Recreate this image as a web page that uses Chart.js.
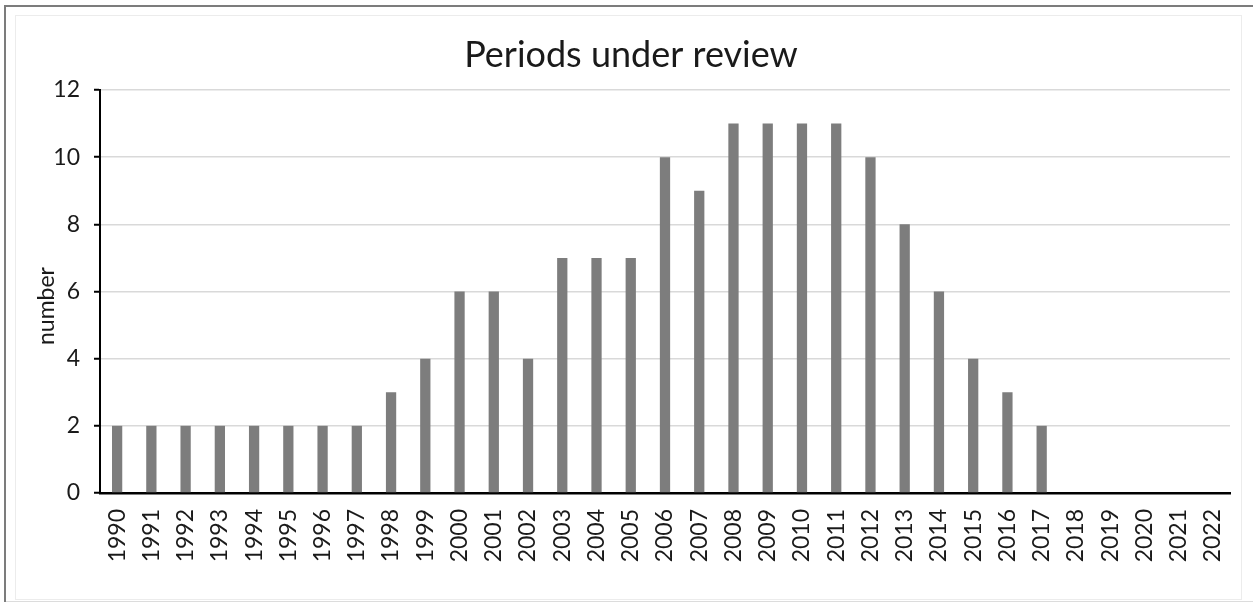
<!DOCTYPE html>
<html>
<head>
<meta charset="utf-8">
<script src="https://cdn.jsdelivr.net/npm/chart.js@4/dist/chart.umd.min.js"></script>
<style>
  html, body { margin: 0; padding: 0; background: #fff; }
  #wrap { width: 1253px; height: 608px; }
</style>
</head>
<body>
<div id="wrap"><canvas id="c" width="1253" height="608"></canvas></div>
<script>
const years = ['1990','1991','1992','1993','1994','1995','1996','1997','1998','1999',
  '2000','2001','2002','2003','2004','2005','2006','2007','2008','2009','2010',
  '2011','2012','2013','2014','2015','2016','2017','2018','2019','2020','2021','2022'];
const periods = [2,2,2,2,2,2,2,2,3,4,6,6,4,7,7,7,10,9,11,11,11,11,10,8,6,4,3,2,0,0,0,0,0];
const yTicks = [0,2,4,6,8,10,12];
const chartTitle = 'Periods under review';
const yTitle = 'number';

const FONT = 'Lato, "Open Sans", sans-serif';

// Outer frame, title and rotated axis title
const decor = {
  id: 'decor',
  beforeDraw(chart) {
    const ctx = chart.ctx;
    ctx.save();
    ctx.fillStyle = '#fff';
    ctx.fillRect(0, 0, chart.width, chart.height);
    // faint inner frame
    ctx.strokeStyle = '#ececec';
    ctx.lineWidth = 1;
    ctx.strokeRect(15.5, 15.5, 1226, 584);
    // outer frame
    ctx.strokeStyle = '#dcdcdc';
    ctx.beginPath();
    ctx.moveTo(5, 601.5); ctx.lineTo(1253, 601.5);
    ctx.stroke();
    ctx.strokeStyle = '#7c7c7c';
    ctx.lineWidth = 2;
    ctx.beginPath();
    ctx.moveTo(5, 602); ctx.lineTo(5, 6); ctx.lineTo(1253, 6);
    ctx.stroke();
    ctx.restore();
  },
  afterDraw(chart) {
    const ctx = chart.ctx;
    ctx.save();
    ctx.fillStyle = '#1a1a1a';
    ctx.font = '36px ' + FONT;
    ctx.textAlign = 'center';
    ctx.textBaseline = 'alphabetic';
    ctx.fillText(chartTitle, 631, 67);
    ctx.translate(47, 306);
    ctx.rotate(-Math.PI / 2);
    ctx.font = '23px ' + FONT;
    ctx.textBaseline = 'middle';
    ctx.fillText(yTitle, 0, 0);
    ctx.restore();
  }
};

new Chart(document.getElementById('c'), {
  type: 'bar',
  data: {
    labels: years,
    datasets: [{
      data: periods,
      backgroundColor: '#7d7d7d',
      borderWidth: 0,
      categoryPercentage: 1,
      barPercentage: 0.3
    }]
  },
  options: {
    responsive: false,
    animation: false,
    layout: { padding: { left: 5, top: 90, right: 23, bottom: 10 } },
    plugins: {
      legend: { display: false },
      title: { display: false },
      tooltip: { enabled: false }
    },
    scales: {
      x: {
        grid: { display: false, drawTicks: false },
        border: { display: true, color: '#000', width: 2.5 },
        ticks: {
          color: '#1a1a1a',
          font: { family: FONT, size: 23 },
          minRotation: 90,
          maxRotation: 90,
          autoSkip: false,
          padding: 16
        },
        afterFit(scale) {
          scale.height = 105;
          scale.paddingLeft = 0;
          scale.paddingRight = 0;
        }
      },
      y: {
        min: 0,
        max: 12,
        afterBuildTicks(scale) { scale.ticks = yTicks.map(v => ({ value: v })); },
        grid: {
          color: '#d9d9d9',
          lineWidth: 1.5,
          tickColor: '#000',
          tickLength: 6,
          tickWidth: 2
        },
        border: { display: true, color: '#000', width: 2 },
        ticks: {
          color: '#1a1a1a',
          font: { family: FONT, size: 23 },
          padding: 14
        },
        afterFit(scale) { scale.width = 95; }
      }
    }
  },
  plugins: [decor]
});
</script>
</body>
</html>
